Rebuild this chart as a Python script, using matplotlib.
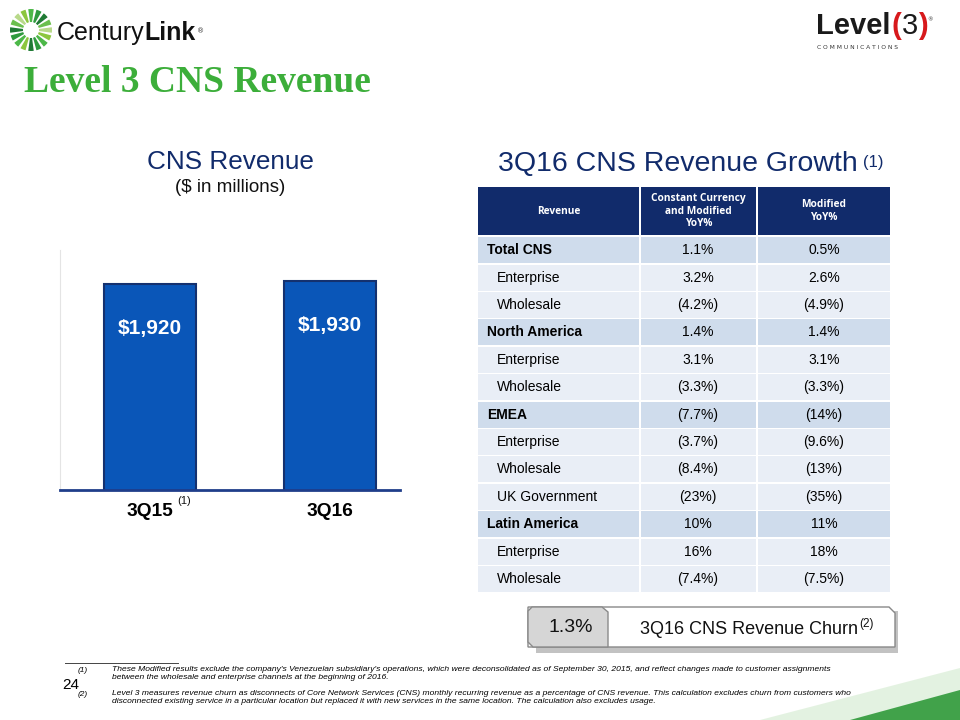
import matplotlib.pyplot as plt
from matplotlib.patches import Rectangle, Polygon, Wedge
import numpy as np

# Data
quarters = ["3Q15", "3Q16"]
revenue = [1920, 1930]
revenue_labels = ["$1,920", "$1,930"]

row_names = ["Total CNS", "Enterprise", "Wholesale", "North America", "Enterprise",
             "Wholesale", "EMEA", "Enterprise", "Wholesale", "UK Government",
             "Latin America", "Enterprise", "Wholesale"]
row_is_section = [True, False, False, True, False, False, True, False, False, False,
                  True, False, False]
cc_modified = ["1.1%", "3.2%", "(4.2%)", "1.4%", "3.1%", "(3.3%)", "(7.7%)", "(3.7%)",
               "(8.4%)", "(23%)", "10%", "16%", "(7.4%)"]
modified = ["0.5%", "2.6%", "(4.9%)", "1.4%", "3.1%", "(3.3%)", "(14%)", "(9.6%)",
            "(13%)", "(35%)", "11%", "18%", "(7.5%)"]
headers = ["Revenue", "Constant Currency\nand Modified\nYoY%", "Modified\nYoY%"]
churn = "1.3%"

footnotes = [
    "These Modified results exclude the company's Venezuelan subsidiary's operations, which were deconsolidated as of September 30, 2015, and reflect changes made to customer assignments\nbetween the wholesale and enterprise channels at the beginning of 2016.",
    "Level 3 measures revenue churn as disconnects of Core Network Services (CNS) monthly recurring revenue as a percentage of CNS revenue. This calculation excludes churn from customers who\ndisconnected existing service in a particular location but replaced it with new services in the same location. The calculation also excludes usage.",
]

GREEN = "#3cae3a"
NAVY = "#112b6b"
BAR = "#0a56b8"
FONT = "Liberation Sans"

fig = plt.figure(figsize=(9.6, 7.2), dpi=100)
bg = fig.add_axes([0, 0, 1, 1])
bg.set_xlim(0, 960)
bg.set_ylim(720, 0)
bg.axis("off")


def after(prev, s, dx=0, dy=0, **kw):
    # place text right after another text artist
    return bg.annotate(s, xy=(1, 0), xycoords=prev, xytext=(dx, dy),
                       textcoords="offset points", ha="left", va="bottom", **kw)


# decorative green swoosh bottom right
bg.add_patch(Polygon([[760, 720], [960, 720], [960, 668]], closed=True,
                     color="#c9e6c4", alpha=0.5, lw=0))
bg.add_patch(Polygon([[850, 720], [960, 720], [960, 690]], closed=True,
                     color="#2f9a3a", alpha=0.9, lw=0))

# CenturyLink logo
shades = ["#1f7a34", "#2e9a3e", "#4cb848", "#8cc63f", "#b8d98a", "#6bbf4e"]
for k in range(16):
    ang = 90 - k * 22.5
    bg.add_patch(Wedge((31, 30), 21, ang - 7.5, ang + 7.5, width=13,
                       color=shades[k % len(shades)], lw=0))
t1 = bg.text(57, 40, "Century", fontsize=18, color="#111111", va="baseline", ha="left",
             family=FONT)
t2 = after(t1, "Link", fontsize=18, color="#111111", family=FONT, weight="bold")
after(t2, "®", dx=1, dy=8, fontsize=5, color="#333333")

# Level 3 logo
l1 = bg.text(816, 34, "Level", fontsize=21, weight="bold", color="#1a1a1a",
             va="baseline", family=FONT)
l2 = after(l1, "(", dx=1, fontsize=21, color="#d7191c", family=FONT, weight="bold")
l3 = after(l2, "3", fontsize=21, color="#1a1a1a", family=FONT)
l4 = after(l3, ")", fontsize=21, color="#d7191c", family=FONT, weight="bold")
after(l4, "®", dx=0, dy=13, fontsize=4, color="#333333")
bg.text(817, 45, "C O M M U N I C A T I O N S", fontsize=4.3, color="#333333",
        va="top")

# title
bg.text(24, 83, "Level 3 CNS Revenue", fontsize=27, weight="bold", color=GREEN,
        family="Liberation Serif", va="center", ha="left")

# chart titles
bg.text(230, 162, "CNS Revenue", fontsize=18.8, color=NAVY, ha="center", va="center",
        family=FONT)
bg.text(230, 188, "($ in millions)", fontsize=13.5, color="#111111", ha="center",
        va="center", family=FONT)
g1 = bg.text(498, 171, "3Q16 CNS Revenue Growth", fontsize=20.5, color=NAVY, ha="left",
             va="baseline", family=FONT)
after(g1, "(1)", dx=4, dy=5, fontsize=12, color=NAVY, family=FONT)

# bar chart
ax = fig.add_axes([60 / 960, (720 - 490) / 720, 340 / 960, 240 / 720])
x = np.arange(len(quarters))
bars = ax.bar(x, revenue, width=0.51, color=BAR, edgecolor="#14316f", linewidth=1.5)
ax.set_ylim(1200, 2040)
ax.set_xlim(-0.5, 1.39)
for b, lab in zip(bars, revenue_labels):
    ax.annotate(lab, (b.get_x() + b.get_width() / 2, b.get_height()),
                xytext=(0, -32), textcoords="offset points", ha="center", va="center",
                color="white", fontsize=15, weight="bold", family=FONT)
ax.set_xticks(x)
ax.set_xticklabels(quarters, fontsize=13.8, weight="bold", family=FONT)
ax.tick_params(axis="x", length=0, pad=9)
ax.set_yticks([])
for s in ["top", "right"]:
    ax.spines[s].set_visible(False)
ax.spines["left"].set_color("#e4e4e4")
ax.spines["bottom"].set_color("#1f3d8a")
ax.spines["bottom"].set_linewidth(2)
ax.spines["bottom"].set_zorder(5)
bg.text(177, 501, "(1)", fontsize=8, color="#111111", family=FONT, va="center")

# table
col_edges = [477, 640, 757, 891]
head_top, head_bot = 187, 235
row_h = 27.4
gap = 1.5
for c in range(3):
    x0, x1 = col_edges[c], col_edges[c + 1]
    bg.add_patch(Rectangle((x0 + gap / 2, head_top), x1 - x0 - gap, head_bot - head_top,
                           color=NAVY, lw=0))
    bg.text((x0 + x1) / 2, (head_top + head_bot) / 2, headers[c], color="white",
            fontsize=7.3, weight="bold", ha="center", va="center", family="Open Sans",
            linespacing=1.2)

for r, name in enumerate(row_names):
    y0 = head_bot + 1.5 + r * row_h
    fill = "#cfdcec" if row_is_section[r] else "#e9eef6"
    for c in range(3):
        x0, x1 = col_edges[c], col_edges[c + 1]
        bg.add_patch(Rectangle((x0 + gap / 2, y0 + gap / 2), x1 - x0 - gap, row_h - gap,
                               color=fill, lw=0))
    yc = y0 + row_h / 2
    if row_is_section[r]:
        bg.text(487, yc, name, fontsize=10, weight="bold", ha="left", va="center",
                family=FONT)
    else:
        bg.text(497, yc, name, fontsize=10, ha="left", va="center", family=FONT)
    bg.text(698, yc, cc_modified[r], fontsize=10, ha="center", va="center", family=FONT)
    bg.text(824, yc, modified[r], fontsize=10, ha="center", va="center", family=FONT)

# churn box
bg.add_patch(Polygon([[536, 611], [898, 611], [898, 653], [536, 653]], color="#9a9a9a",
                     alpha=0.6, lw=0))
bg.add_patch(Polygon([[528, 607], [889, 607], [895, 613], [895, 647], [528, 647]],
                     facecolor="white", edgecolor="#888888", lw=1))
bg.add_patch(Polygon([[532, 607], [602, 607], [608, 612], [608, 647], [533, 647],
                      [528, 642], [528, 611]],
                     facecolor="#d6d6d6", edgecolor="#8a8a8a", lw=1))
bg.text(571, 628, churn, fontsize=14, ha="center", va="center", family=FONT,
        color="#111111")
c1 = bg.text(640, 634, "3Q16 CNS Revenue Churn", fontsize=13, ha="left", va="baseline",
             family=FONT, color="#111111")
after(c1, "(2)", dx=1, dy=6, fontsize=8.5, family=FONT, color="#111111")

# footnotes
bg.plot([65, 178], [663, 663], color="#444444", lw=0.7)
bg.text(62, 685, "24", fontsize=11, ha="left", va="center", family=FONT)
for i, note in enumerate(footnotes):
    yy = 666 + i * 24
    bg.text(78, yy + 1, f"({i + 1})", fontsize=6, style="italic", ha="left", va="top",
            family=FONT)
    bg.text(112, yy, note, fontsize=6.1, style="italic", ha="left", va="top",
            family=FONT, linespacing=1.15)

fig.savefig("out.png", dpi=100)
